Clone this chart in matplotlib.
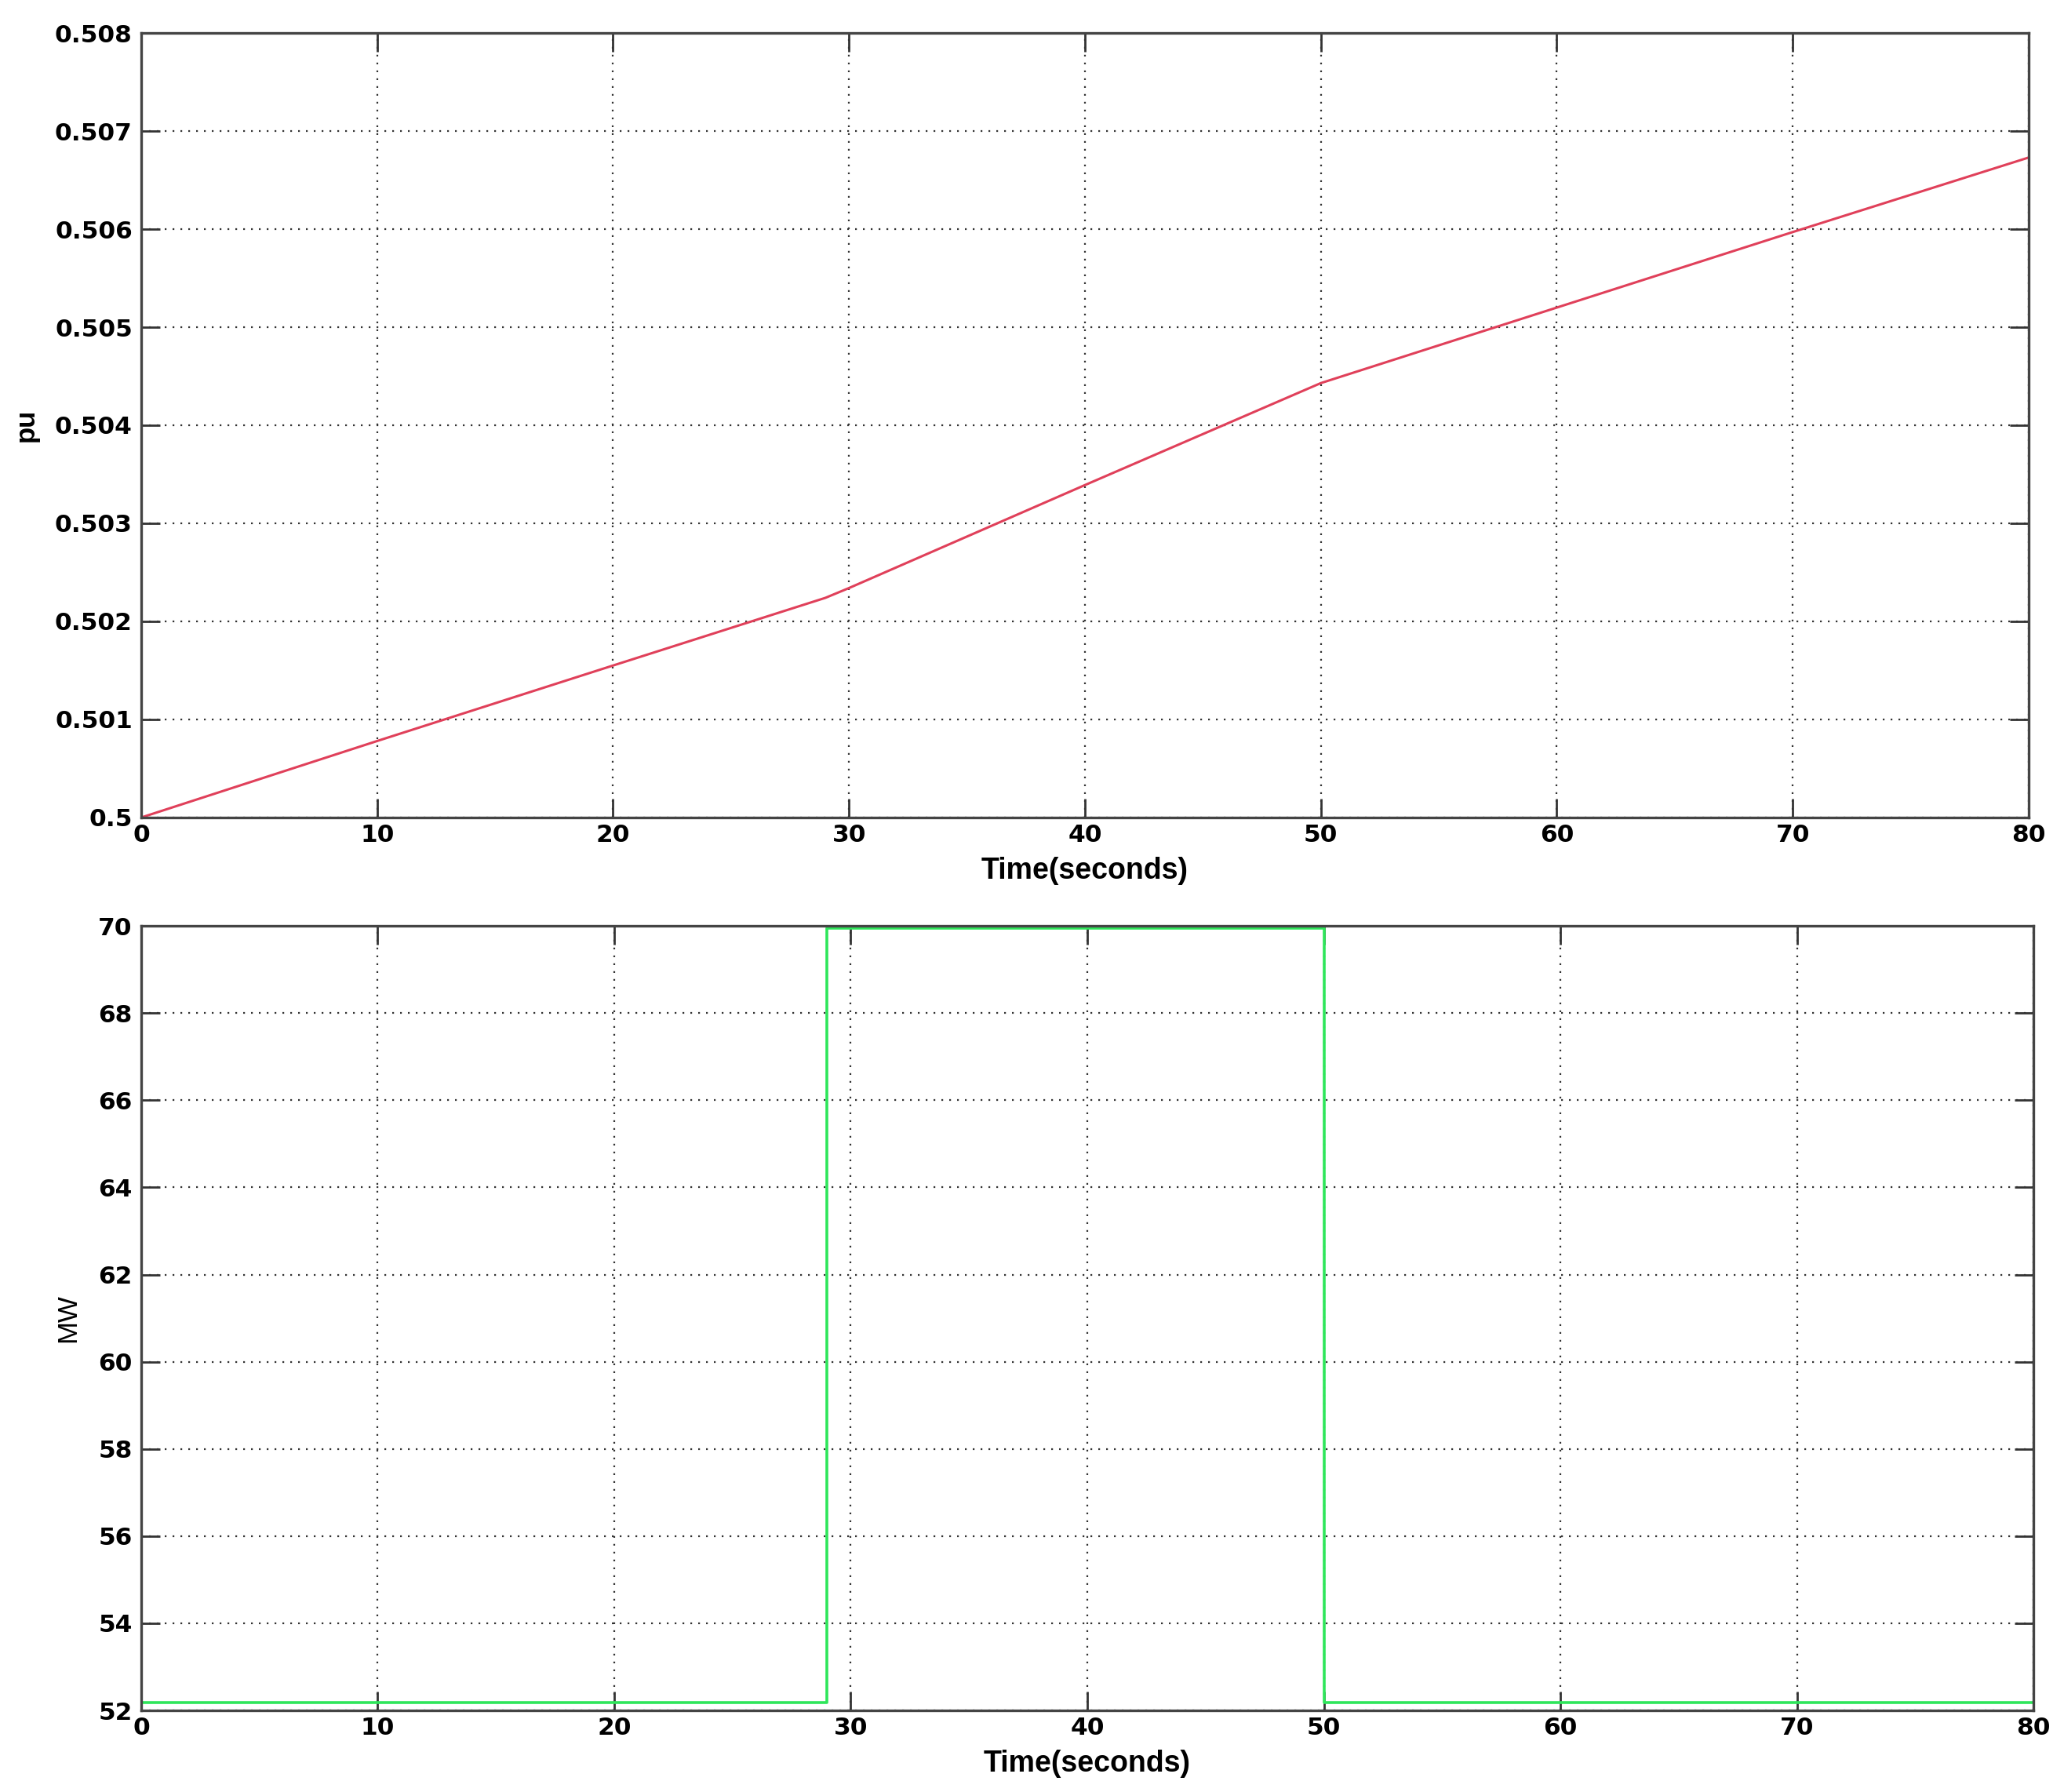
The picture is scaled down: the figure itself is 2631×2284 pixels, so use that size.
import numpy as np
import matplotlib
matplotlib.use("Agg")
import matplotlib.pyplot as plt

plt.rcParams['font.family'] = ['Liberation Sans', 'DejaVu Sans']

# top panel: speed (pu)
t_pu = [0, 10, 20, 29, 30, 40, 50, 60, 70, 80]
pu_vals = [0.5, 0.50078, 0.50155, 0.50224, 0.50234, 0.50339, 0.50443, 0.50520, 0.50597, 0.50673]
pu_ticks = [0.5, 0.501, 0.502, 0.503, 0.504, 0.505, 0.506, 0.507, 0.508]
pu_ticklabels = ['0.5', '0.501', '0.502', '0.503', '0.504', '0.505', '0.506', '0.507', '0.508']

# bottom panel: power (MW), step
t_mw = [0, 29, 29, 50, 50, 80]
mw_vals = [52.18, 52.18, 69.95, 69.95, 52.18, 52.18]
mw_ticks = [52, 54, 56, 58, 60, 62, 64, 66, 68, 70]

x_ticks = [0, 10, 20, 30, 40, 50, 60, 70, 80]

fig = plt.figure(figsize=(26.31, 22.84), dpi=100)
ax1 = fig.add_axes([0.0684, 0.5438, 0.9145, 0.4378])
ax2 = fig.add_axes([0.0684, 0.0455, 0.9168, 0.4378])

ax1.plot(t_pu, pu_vals, color='#e0405a', lw=2.2)
ax2.plot(t_mw, mw_vals, color='#2ee65a', lw=2.6)

def style(ax, yticks, ylabels, ylabel, ylab_x, ylab_weight, ylab_size):
    ax.set_xlim(0, 80)
    ax.set_xticks(x_ticks)
    ax.set_yticks(yticks)
    if ylabels is not None:
        ax.set_yticklabels(ylabels)
    ax.set_ylim(yticks[0], yticks[-1])
    ax.grid(True, linestyle=(0, (1, 3.5)), color='#333333', lw=1.6)
    ax.tick_params(direction='in', length=17, width=2, colors='#333333',
                   top=True, right=True, labelsize=22.5, labelcolor='black')
    ax.tick_params(axis='x', pad=6)
    ax.tick_params(axis='y', pad=8)
    for lbl in ax.get_xticklabels() + ax.get_yticklabels():
        lbl.set_fontweight('bold')
        lbl.set_family('DejaVu Sans')
    for s in ax.spines.values():
        s.set_linewidth(2.4)
        s.set_color('#444444')
    ax.set_xlabel('Time(seconds)', fontsize=27, fontweight='bold')
    ax.xaxis.set_label_coords(0.5, -0.05)
    ax.set_ylabel(ylabel, fontsize=ylab_size, fontweight=ylab_weight)
    ax.yaxis.set_label_coords(ylab_x, 0.5)

style(ax1, pu_ticks, pu_ticklabels, 'pu', -0.054, 'bold', 25)
style(ax2, mw_ticks, None, 'MW', -0.032, 'normal', 25)

fig.savefig('out.png', dpi=100)
